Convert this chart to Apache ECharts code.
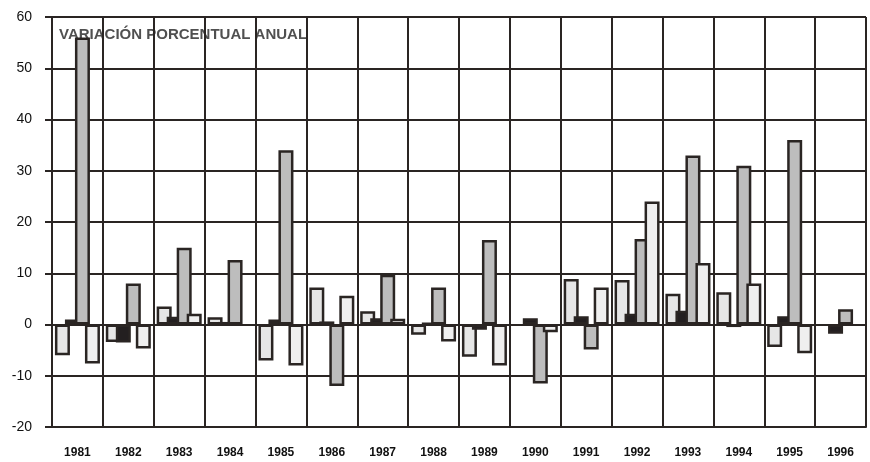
<!DOCTYPE html>
<html>
<head>
<meta charset="utf-8">
<script src="https://cdn.jsdelivr.net/npm/echarts@6/dist/echarts.min.js"></script>
<style>
html,body{margin:0;padding:0;background:#fff;}
#c{width:870px;height:462px;}
</style>
</head>
<body>
<div id="c"></div>
<script>
var years = ['1981','1982','1983','1984','1985','1986','1987','1988','1989','1990','1991','1992','1993','1994','1995','1996'];
var serieA = [-6, -3.4, 3.5, 1.4, -7, 7.2, 2.6, -2, -6.3, null, 8.9, 8.7, 6, 6.3, -4.4, null];
var serieB = [1, -3.5, 1.5, 0.5, 1, 0.6, 1.2, 0.3, -1, 1.2, 1.6, 2.1, 2.7, -0.5, 1.6, -1.8];
var serieC = [56, 8, 15, 12.6, 34, -12, 9.7, 7.2, 16.5, -11.5, -4.9, 16.7, 33, 31, 36, 3];
var serieD = [-7.6, -4.7, 2.1, null, -8, 5.6, 1.1, -3.3, -8, -1.5, 7.2, 24, 12, 8, -5.6, null];
var yTicks = {min: -20, max: 60, interval: 10};
var titulo = 'VARIACIÓN PORCENTUAL ANUAL';

var ink = '#2a2523';
function bar(data, fill) {
  return {
    type: 'bar', data: data, barWidth: 15, barGap: '-33.3%',
    itemStyle: {color: fill, borderColor: ink, borderWidth: 2.5},
    emphasis: {disabled: true}, animation: false
  };
}
var chart = echarts.init(document.getElementById('c'));
chart.setOption({
  animation: false,
  title: {
    text: titulo, left: 54, top: 22, z: -1,
    textStyle: {fontFamily: 'Liberation Sans', fontWeight: 'bold', fontSize: 15, color: '#505050'}
  },
  grid: {left: 52, right: 4, top: 17, bottom: 35},
  xAxis: {
    type: 'category', data: years,
    axisLine: {onZero: false, lineStyle: {color: ink, width: 2}},
    axisTick: {show: false},
    splitLine: {show: true, interval: 0, lineStyle: {color: ink, width: 2}},
    axisLabel: {margin: 20, fontFamily: 'Liberation Sans', fontWeight: 'bold', fontSize: 12, color: '#111'}
  },
  yAxis: {
    type: 'value', min: yTicks.min, max: yTicks.max, interval: yTicks.interval,
    axisLine: {show: true, lineStyle: {color: ink, width: 2}},
    axisTick: {show: true, length: 7, lineStyle: {color: ink, width: 2}},
    splitLine: {show: true, lineStyle: {color: ink, width: 2}},
    axisLabel: {margin: 20, fontFamily: 'Liberation Sans', fontSize: 14, color: '#111'}
  },
  series: [
    bar(serieA, '#e6e6e6'),
    bar(serieB, '#231f20'),
    bar(serieC, '#bdbdbd'),
    bar(serieD, '#efefef')
  ]
});
</script>
</body>
</html>
